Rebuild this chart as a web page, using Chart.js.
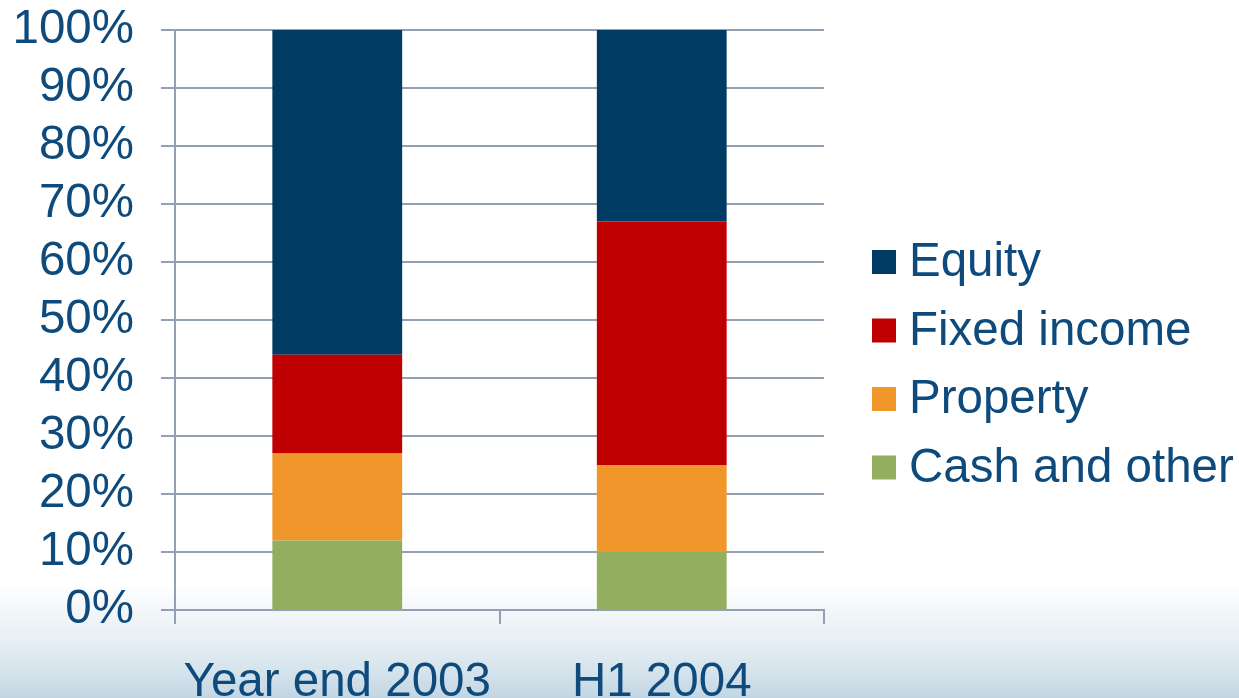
<!DOCTYPE html>
<html>
<head>
<meta charset="utf-8">
<title>Asset allocation</title>
<script src="https://cdn.jsdelivr.net/npm/chart.js@4/dist/chart.umd.min.js"></script>
<style>
  html, body { margin: 0; padding: 0; background: #ffffff; }
  #wrap { width: 1239px; height: 698px; position: relative; }
</style>
</head>
<body>
<div id="wrap"><canvas id="chart" width="1239" height="698"></canvas></div>
<script>
// Asset allocation mix, percent of total
const categories = ['Year end 2003', 'H1 2004'];
const cashAndOther = [12, 10];
const property = [15, 15];
const fixedIncome = [17, 42];
const equity = [56, 33];
const yTickLabels = ['0%', '10%', '20%', '30%', '40%', '50%', '60%', '70%', '80%', '90%', '100%'];

const TEXT = '#0E4B7C';
const GRID = '#939FB4';
const FONT = '"Liberation Sans", Arial, sans-serif';
const FONT_SIZE = 47.5;

// Soft blue-grey wash along the bottom of the canvas
const backdrop = {
  id: 'backdrop',
  beforeDraw(chart) {
    const { ctx, width, height } = chart;
    ctx.save();
    ctx.fillStyle = '#ffffff';
    ctx.fillRect(0, 0, width, height);
    const g = ctx.createLinearGradient(0, 585, 0, height);
    g.addColorStop(0, 'rgba(205,222,232,0)');
    g.addColorStop(0.45, 'rgba(214,228,236,0.55)');
    g.addColorStop(1, 'rgba(194,214,227,1)');
    ctx.fillStyle = g;
    ctx.fillRect(0, 585, width, height - 585);
    ctx.restore();
  }
};

// Legend on the right, listed top of stack first
const sideLegend = {
  id: 'sideLegend',
  afterDraw(chart) {
    const { ctx } = chart;
    const sets = chart.data.datasets.slice().reverse();
    const x0 = 872, y0 = 262, step = 68.5, box = 24;
    ctx.save();
    ctx.font = FONT_SIZE + 'px ' + FONT;
    ctx.textBaseline = 'middle';
    ctx.textAlign = 'left';
    sets.forEach((ds, i) => {
      const y = y0 + i * step;
      ctx.fillStyle = ds.backgroundColor;
      ctx.fillRect(x0, y - box / 2, box, box);
      ctx.fillStyle = TEXT;
      ctx.fillText(ds.label, x0 + box + 13, y + 1);
    });
    ctx.restore();
  }
};

new Chart(document.getElementById('chart'), {
  type: 'bar',
  data: {
    labels: categories,
    datasets: [
      { label: 'Cash and other', data: cashAndOther, backgroundColor: '#92AE5E' },
      { label: 'Property', data: property, backgroundColor: '#F0962A' },
      { label: 'Fixed income', data: fixedIncome, backgroundColor: '#C00000' },
      { label: 'Equity', data: equity, backgroundColor: '#003B64' }
    ]
  },
  options: {
    responsive: false,
    animation: false,
    devicePixelRatio: 1,
    layout: { padding: { top: 30, right: 415, left: 0, bottom: 0 } },
    datasets: { bar: { categoryPercentage: 1, barPercentage: 0.4, borderWidth: 0 } },
    plugins: { legend: { display: false }, tooltip: { enabled: false } },
    scales: {
      x: {
        stacked: true,
        offset: true,
        grid: { offset: true, drawOnChartArea: false, drawTicks: true, tickLength: 14, color: GRID, lineWidth: 2 },
        border: { display: true, color: GRID, width: 2 },
        ticks: { color: TEXT, font: { family: FONT, size: FONT_SIZE }, padding: 30, maxRotation: 0 },
        afterFit(scale) { scale.height = 88; scale.paddingLeft = 0; scale.paddingRight = 0; }
      },
      y: {
        stacked: true,
        min: 0,
        max: 100,
        grid: { color: GRID, lineWidth: 2, tickLength: 14, drawTicks: true },
        border: { display: true, color: GRID, width: 2 },
        ticks: {
          stepSize: 10,
          autoSkip: false,
          color: TEXT,
          font: { family: FONT, size: FONT_SIZE },
          padding: 27,
          callback: (v, i) => yTickLabels[i]
        },
        afterFit(scale) { scale.width = 175; scale.paddingTop = 0; scale.paddingBottom = 0; }
      }
    }
  },
  plugins: [backdrop, sideLegend]
});
</script>
</body>
</html>
